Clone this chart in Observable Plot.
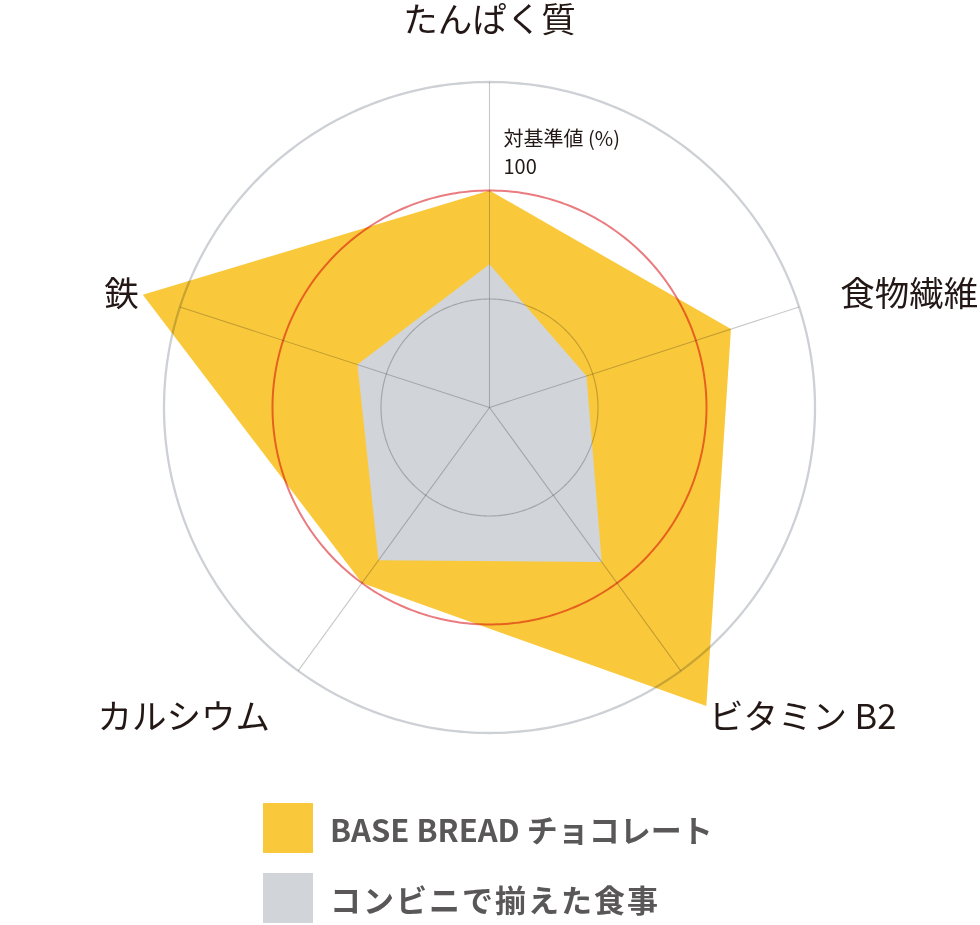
<!DOCTYPE html>
<html><head><meta charset="utf-8">
<script src="https://cdn.jsdelivr.net/npm/d3@7"></script>
<script src="https://cdn.jsdelivr.net/npm/@observablehq/plot@0.6"></script>
<style>
body{margin:0;background:#fff;font-family:"Noto Sans CJK JP","Noto Sans",sans-serif;}
#chart svg{display:block}
#legend{position:relative;height:135px}
.row{position:absolute;left:263px;display:flex;align-items:center;height:50px}
.sw{width:50px;height:50px;margin-right:17px;flex:none}
.lt{font-weight:700;font-size:31px;color:#595757;white-space:nowrap}
</style></head><body>
<div id="chart"></div>
<div id="legend"></div>
<script>
// ---- data ----
const categories = ["たんぱく質", "食物繊維", "ビタミン B2", "カルシウム", "鉄"];
const baseBread = [100, 117, 170, 100, 168];
const konbini = [66, 47, 88, 87, 64];
const seriesNames = ["BASE BREAD チョコレート", "コンビニで揃えた食事"];
const seriesColors = ["#FAC93B", "#D1D4D9"];
const gridInner = 50;
const gridOuter = 150;
const referenceLevel = 100;
const axisTitle = "対基準値 (%)";
const referenceLabel = "100";

// ---- geometry helpers ----
const n = categories.length;
const ang = i => i * 2 * Math.PI / n;
const poly = (vals, s) => vals.map((v, i) => ({x: v * Math.sin(ang(i)), y: v * Math.cos(ang(i)), series: s, category: categories[i], value: v}));
const polys = [...poly(baseBread, seriesNames[0]), ...poly(konbini, seriesNames[1])];
const ring = r => d3.range(0, 360, 1).map(a => ({x: r * Math.sin(a * Math.PI / 180), y: r * Math.cos(a * Math.PI / 180)}));
const spokes = categories.map((c, i) => ({category: c, x2: gridOuter * Math.sin(ang(i)), y2: gridOuter * Math.cos(ang(i))}));
const labelAt = (i, r) => ({category: categories[i], x: r * Math.sin(ang(i)), y: r * Math.cos(ang(i))});

const font = "'Noto Sans CJK JP', 'Noto Sans', sans-serif";
const labelMark = (i, r, anchor, dy) => Plot.text([labelAt(i, r)], {
  x: "x", y: "y", text: "category", textAnchor: anchor, dy,
  fontSize: 34.5, fontFamily: font, fill: "#231815"
});

const cx = 489, cy = 407, k = 2.17;
const chart = Plot.plot({
  width: 980, height: 790, margin: 0,
  x: {domain: [-100, 100], range: [cx - 100 * k, cx + 100 * k], axis: null},
  y: {domain: [-100, 100], range: [cy + 100 * k, cy - 100 * k], axis: null},
  color: {domain: seriesNames, range: seriesColors},
  marks: [
    Plot.line(polys, {x: "x", y: "y", z: "series", fill: "series", stroke: null, curve: "linear-closed"}),
    Plot.line(ring(gridOuter), {x: "x", y: "y", curve: "linear-closed", stroke: "#CDD0D5", strokeWidth: 2.3, mixBlendMode: "multiply"}),
    Plot.line(ring(gridInner), {x: "x", y: "y", curve: "linear-closed", stroke: "#C8C8C8", strokeWidth: 1.2, mixBlendMode: "multiply"}),
    Plot.link(spokes, {x1: 0, y1: 0, x2: "x2", y2: "y2", stroke: "#C8C8C8", strokeWidth: 1.1, mixBlendMode: "multiply"}),
    Plot.line(ring(referenceLevel), {x: "x", y: "y", curve: "linear-closed", stroke: "#EA7B7F", strokeWidth: 2, mixBlendMode: "multiply"}),
    labelMark(0, 172, "middle", -13),
    labelMark(1, 170, "start", 1),
    labelMark(4, 170, "end", 1),
    labelMark(2, 172, "start", 8),
    labelMark(3, 172, "end", 8),
    Plot.text([{t: axisTitle}], {x: 0, y: referenceLevel, text: "t", textAnchor: "start", dx: 14, dy: -51, fontSize: 20, fontFamily: font, fill: "#231815"}),
    Plot.text([{t: referenceLabel}], {x: 0, y: referenceLevel, text: "t", textAnchor: "start", dx: 14, dy: -23, fontSize: 20, fontFamily: font, fill: "#231815"})
  ]
});
document.getElementById("chart").append(chart);

const legend = d3.select("#legend");
seriesNames.forEach((s, i) => {
  const row = legend.append("div").attr("class", "row").style("top", (13 + i * 70) + "px");
  row.append("div").attr("class", "sw").style("background", seriesColors[i]);
  row.append("div").attr("class", "lt").style("letter-spacing", i === 1 ? "2px" : "0px").text(s);
});
</script>
</body></html>
